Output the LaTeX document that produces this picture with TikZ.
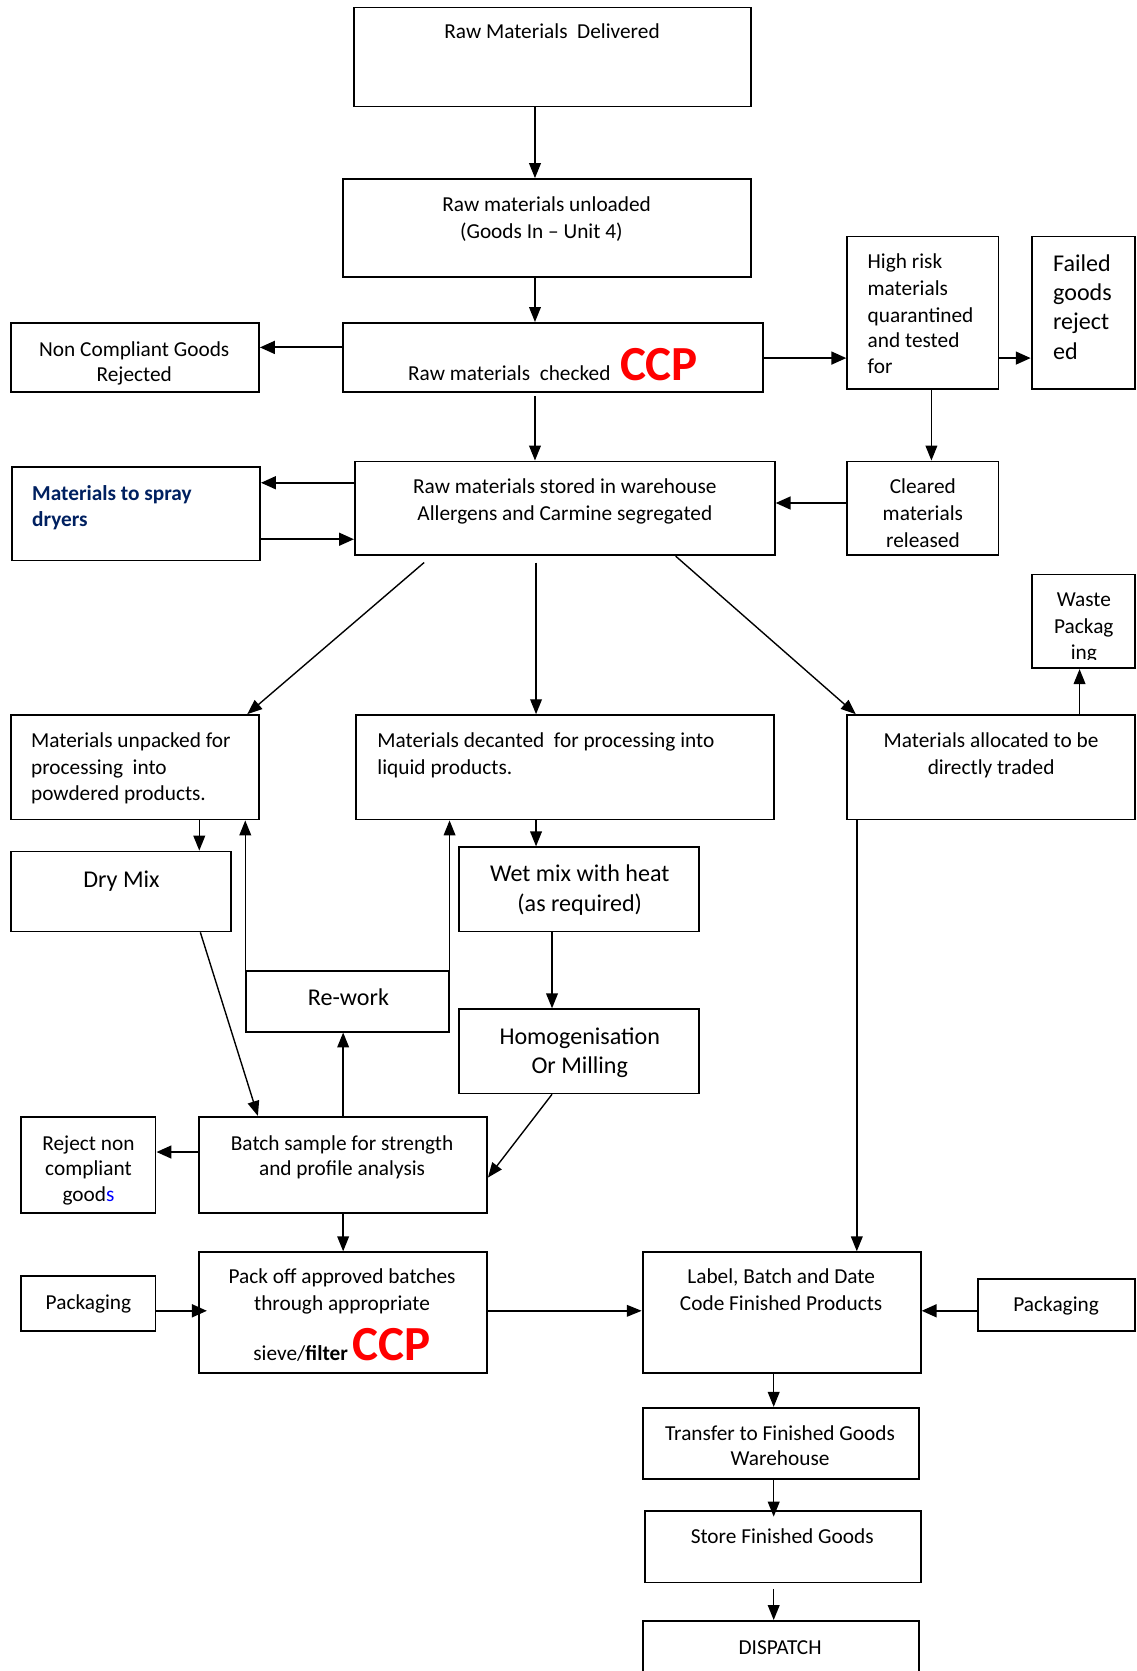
\documentclass[tikz,border=0pt]{standalone}
\usepackage{fontspec}
\setmainfont{Carlito}
\usetikzlibrary{arrows.meta}
\definecolor{navy}{RGB}{0,32,96}
\definecolor{ccpred}{RGB}{255,0,0}
\newcommand\bx[5]{\node[box, minimum width={#4-#2}, minimum height={#5-#3}] (#1) at ({(#2+#4)/2},{(#3+#5)/2}) {};}
\newcommand\ccp{{\fontsize{46}{46}\selectfont\bfseries\color{ccpred}CCP}}
\newcommand\mfont{\fontsize{20}{24}\selectfont}
\tikzset{
  box/.style={draw, line width=1.7pt, inner sep=0pt, rectangle},
  t/.style={anchor=mid, inner sep=0pt, font=\mfont, yshift=-5pt},
  tl/.style={t, anchor=mid west},
  tb/.style={anchor=mid, inner sep=0pt, font=\fontsize{22.6}{27}\selectfont, yshift=-5pt},
  arr/.style={line width=1.3pt, -{Triangle[length=14pt,width=11pt]}},
  arrb/.style={line width=2pt, -{Triangle[length=14pt,width=12pt]}},
}
\begin{document}
\begin{tikzpicture}[x=1pt,y=-1pt]
\useasboundingbox (0,0) rectangle (1066,1568);
% boxes
\bx{deliv}{332}{7}{705}{100}
\bx{unload}{322}{168}{705}{260}
\bx{check}{322}{303}{716}{368}
\bx{noncomp}{10}{303}{243}{368}
\bx{highrisk}{795}{222}{937}{365}
\bx{failed}{968}{222}{1065}{365}
\bx{spray}{11}{438}{244}{526}
\bx{stored}{333}{433}{727}{521}
\bx{cleared}{795}{433}{937}{521}
\bx{waste}{968}{539}{1065}{627}
\bx{unpacked}{10}{671}{243}{769}
\bx{decanted}{334}{671}{726}{769}
\bx{alloc}{795}{671}{1065}{769}
\bx{drymix}{10}{799}{217}{874}
\bx{wetmix}{431}{795}{656}{874}
\bx{rework}{231}{911}{421}{968}
\bx{homog}{431}{947}{656}{1026}
\bx{reject}{20}{1048}{146}{1138}
\bx{batch}{187}{1048}{457}{1138}
\bx{packL}{20}{1197}{146}{1249}
\bx{packoff}{187}{1175}{457}{1288}
\bx{label}{603}{1175}{864}{1288}
\bx{packR}{918}{1200}{1065}{1249}
\bx{transfer}{603}{1321}{862}{1388}
\bx{store}{605}{1418}{864}{1485}
\bx{dispatch}{603}{1521}{862}{1580}
% texts
\node[t] (tdeliv) at (518,29) {Raw Materials\ \ Delivered};
\node[t] (tunload1) at (513,191) {Raw materials unloaded};
\node[t] (tunload2) at (508,216) {(Goods In – Unit 4)};
\node[anchor=base, inner sep=0pt] (tcheck) at (519,357) {\mfont Raw materials\ \ checked\ \ \ccp};
\node[t] (tnc1) at (126,327) {Non Compliant Goods};
\node[t] (tnc2) at (126,351) {Rejected};
\node[tl] (thr1) at (814,245) {High risk};
\node[tl] (thr2) at (814,270) {materials};
\node[tl] (thr3) at (814,295) {quarantined};
\node[tl] (thr4) at (814,319) {and tested};
\node[tl] (thr5) at (814,343) {for};
\node[tb, anchor=mid west] (tf1) at (988,247) {Failed};
\node[tb, anchor=mid west] (tf2) at (988,275) {goods};
\node[tb, anchor=mid west] (tf3) at (988,302) {reject};
\node[tb, anchor=mid west] (tf4) at (988,330) {ed};
\node[tl, text=navy, font=\mfont\bfseries] (ts1) at (30,462) {Materials to spray};
\node[tl, text=navy, font=\mfont\bfseries] (ts2) at (30,487) {dryers};
\node[t] (tst1) at (530,456) {Raw materials stored in warehouse};
\node[t] (tst2) at (530,481) {Allergens and Carmine segregated};
\begin{scope}
\clip (795,433) rectangle (937,514);
\node[t] (tc1) at (866,456) {Cleared};
\node[t] (tc2) at (866,481) {materials};
\node[t] (tc3) at (866,506) {released};
\end{scope}
\begin{scope}
\clip (968,539) rectangle (1065,619);
\node[t] (tw1) at (1017,562) {Waste};
\node[t] (tw2) at (1017,587) {Packag};
\node[t] (tw3) at (1017,611) {ing};
\end{scope}
\node[tl] (tu1) at (29,694) {Materials unpacked for};
\node[tl] (tu2) at (29,719) {processing\ \ into};
\node[tl] (tu3) at (29,744) {powdered products.};
\node[tl] (td1) at (354,694) {Materials decanted\ \ for processing into};
\node[tl] (td2) at (354,719) {liquid products.};
\node[t] (ta1) at (930,694) {Materials allocated to be};
\node[t] (ta2) at (930,719) {directly traded};
\node[tb] (tdm) at (114,825) {Dry Mix};
\node[tb] (twm1) at (544,820) {Wet mix with heat};
\node[tb] (twm2) at (544,848) {(as required)};
\node[tb] (trw) at (327,936) {Re-work};
\node[tb] (th1) at (544,973) {Homogenisation};
\node[tb] (th2) at (544,1000) {Or Milling};
\node[t] (tr1) at (83,1072) {Reject non};
\node[t] (tr2) at (83,1096) {compliant};
\node[t] (tr3) at (83,1120) {good\textcolor{blue}{s}};
\node[t] (tb1) at (321,1072) {Batch sample for strength};
\node[t] (tb2) at (321,1096) {and profile analysis};
\node[t] (tpl) at (83,1221) {Packaging};
\node[t] (tp1) at (321,1197) {Pack off approved batches};
\node[t] (tp2) at (321,1222) {through appropriate};
\node[anchor=base, inner sep=0pt] (tp3) at (321,1277) {\mfont sieve/\textbf{filter} \ccp};
\node[t] (tl1) at (733,1197) {Label, Batch and Date};
\node[t] (tl2) at (733,1222) {Code Finished Products};
\node[t] (tpr) at (991,1223) {Packaging};
\node[t] (ttr1) at (732,1344) {Transfer to Finished Goods};
\node[t] (ttr2) at (732,1368) {Warehouse};
\node[t] (tsf) at (734,1441) {Store Finished Goods};
\node[t] (tdi) at (732,1545) {DISPATCH};
% connectors
\draw[arr] (deliv.south -| 502,0) -- (unload.north -| 502,0);
\draw[arr] (unload.south -| 502,0) -- (check.north -| 502,0);
\draw[arrb] (check.west |- 0,326) -- (noncomp.east |- 0,326);
\draw[arrb] (check.east |- 0,336) -- (highrisk.west |- 0,336);
\draw[arrb] (highrisk.east |- 0,336) -- (failed.west |- 0,336);
\draw[arr] ([yshift=-3pt]check.south -| 502,0) -- (stored.north -| 502,0);
\draw[arr] (highrisk.south -| 874,0) -- (cleared.north -| 874,0);
\draw[arrb] (cleared.west |- 0,472) -- (stored.east |- 0,472);
\draw[arrb] (stored.west |- 0,453) -- (spray.east |- 0,453);
\draw[arrb] (spray.east |- 0,506) -- (stored.west |- 0,506);
\draw[arr] ([yshift=-6pt]stored.south -| 398,0) -- (unpacked.north -| 232,0);
\draw[arr] ([yshift=-6pt]stored.south -| 503,0) -- (decanted.north -| 503,0);
\draw[arr] (stored.south -| 634,0) -- (alloc.north -| 803,0);
\draw[arr] (alloc.north -| 1013,0) -- (waste.south -| 1013,0);
\draw[arr] (unpacked.south -| 187,0) -- (drymix.north -| 187,0);
\draw[arr] (decanted.south -| 503,0) -- (wetmix.north -| 503,0);
\draw[arr] (rework.north west) -- (unpacked.south -| rework.west);
\draw[arr] (rework.north east) -- (decanted.south -| rework.east);
\draw[arr] (drymix.south -| 188,0) -- (batch.north -| 242,0);
\draw[arr] (batch.north -| 322,0) -- (rework.south -| 322,0);
\draw[arr] (wetmix.south -| 518,0) -- (homog.north -| 518,0);
\draw[arr] (homog.south -| 518,0) -- (batch.east |- 0,1105);
\draw[arrb] (batch.west |- 0,1081) -- (reject.east |- 0,1081);
\draw[arr] (batch.south -| 322,0) -- (packoff.north -| 322,0);
\draw[arrb] (packL.east |- 0,1230) -- ([xshift=8pt]packoff.west |- 0,1230);
\draw[arr] (packoff.east |- 0,1230) -- (label.west |- 0,1230);
\draw[arr] (alloc.south -| 804,0) -- (label.north -| 804,0);
\draw[arrb] (packR.west |- 0,1230) -- (label.east |- 0,1230);
\draw[arr] (label.south -| 726,0) -- (transfer.north -| 726,0);
\draw[arr] (transfer.south -| 726,0) -- ([yshift=-6pt]store.north -| 726,0);
\draw[arr] ([yshift=-5pt]store.south -| 726,0) -- (dispatch.north -| 726,0);
\end{tikzpicture}
\end{document}
